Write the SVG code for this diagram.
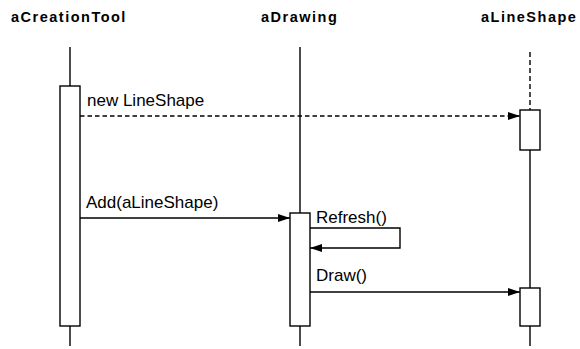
<svg xmlns="http://www.w3.org/2000/svg" width="580" height="349" viewBox="0 0 580 349">
<style>
.hdr{font-family:"Liberation Sans",Arial,sans-serif;font-weight:bold;font-size:14.5px;letter-spacing:1.5px;fill:#000}
.lbl{font-family:"Liberation Sans",Arial,sans-serif;font-size:17px;fill:#000}
.life{stroke:#000;stroke-width:1.4;fill:none}
.act{stroke:#000;stroke-width:1.4;fill:#fff}
.msg{stroke:#000;stroke-width:1.4;fill:none}
.dash{stroke-dasharray:4.5 3}
</style>
<defs>
<marker id="arr" viewBox="0 0 12 8" refX="12" refY="4" markerWidth="12" markerHeight="8" markerUnits="userSpaceOnUse" orient="auto">
<path d="M0,0 L12,4 L0,8 Z" fill="#000"/>
</marker>
</defs>
<g id="aCreationTool">
<text class="hdr" x="11" y="22">aCreationTool</text>
<line class="life" x1="70" y1="47" x2="70" y2="86"/>
<line class="life" x1="70" y1="326" x2="70" y2="346"/>
<rect class="act" x="60" y="86" width="20" height="240"/>
</g>
<g id="aDrawing">
<text class="hdr" x="261" y="22">aDrawing</text>
<line class="life" x1="300" y1="47" x2="300" y2="213"/>
<line class="life" x1="300" y1="326" x2="300" y2="346"/>
<rect class="act" x="290" y="213" width="20" height="113"/>
</g>
<g id="aLineShape">
<text class="hdr" x="481" y="22">aLineShape</text>
<line class="life" x1="530" y1="52" x2="530" y2="110" stroke-width="2" stroke-dasharray="5 3"/>
<line class="life" x1="530" y1="150" x2="530" y2="288"/>
<line class="life" x1="530" y1="326" x2="530" y2="346"/>
<rect class="act" x="520" y="110" width="20" height="40"/>
<rect class="act" x="520" y="288" width="20" height="38"/>
</g>
<g id="connectors">
<line class="msg dash" x1="80" y1="116" x2="520" y2="116" marker-end="url(#arr)"/>
<text class="lbl" x="87" y="106">new LineShape</text>
<line class="msg" x1="80" y1="218" x2="290" y2="218" marker-end="url(#arr)"/>
<text class="lbl" x="86" y="208">Add(aLineShape)</text>
<polyline class="msg" points="310,228 400,228 400,248 310,248" marker-end="url(#arr)"/>
<text class="lbl" x="316" y="223">Refresh()</text>
<line class="msg" x1="310" y1="292" x2="520" y2="292" marker-end="url(#arr)"/>
<text class="lbl" x="316" y="281">Draw()</text>
</g>
</svg>
